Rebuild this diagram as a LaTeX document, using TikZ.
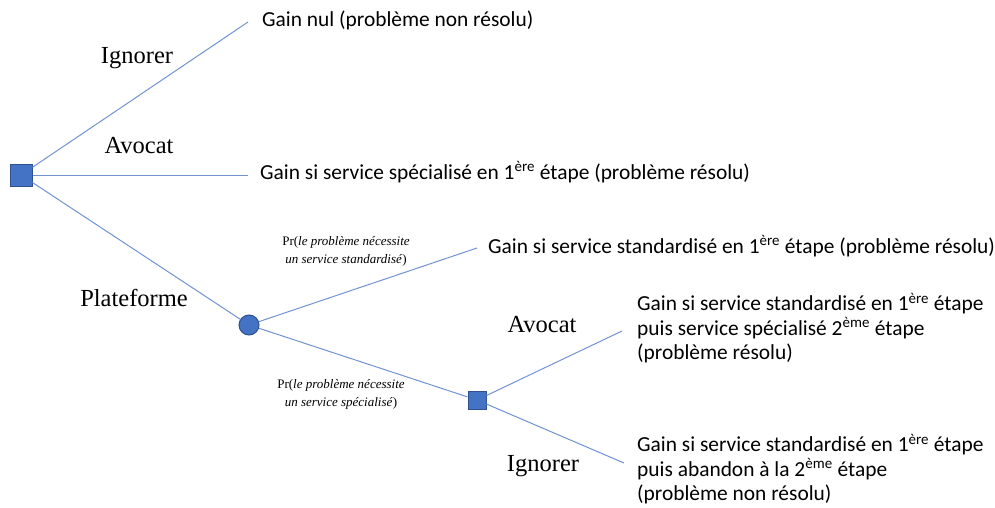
\documentclass[tikz,border=0pt]{standalone}
\usepackage{fontspec}
\setmainfont{Liberation Serif}
\newfontfamily\calib{Carlito}
\newfontfamily\probfont{Liberation Serif}
\begin{document}
\begin{tikzpicture}[x=1pt,y=-1pt,
  edge/.style={draw=lineblue, line width=1pt},
  decsq/.style={rectangle, draw=nodeborder, fill=nodefill, line width=1pt, minimum size=#1, inner sep=0pt},
  chance/.style={circle, draw=nodeborder, fill=nodefill, line width=1pt, minimum size=20pt, inner sep=0pt},
  outcome/.style={anchor=west, font=\calib\fontsize{21.4}{24.5}\selectfont, inner sep=0pt, align=left},
  act/.style={font=\fontsize{24.5}{28}\selectfont, inner sep=0pt},
  prob/.style={font=\probfont\fontsize{13}{18}\selectfont, inner sep=0pt, align=center}]
\definecolor{lineblue}{RGB}{114,147,210}
\definecolor{nodefill}{RGB}{68,114,196}
\definecolor{nodeborder}{RGB}{47,82,143}
\useasboundingbox (0,0) rectangle (995,508);
\node[decsq=22pt] (d1) at (21,175) {};
\node[chance] (c1) at (249,325) {};
\node[decsq=18pt] (d2) at (477,400) {};
\coordinate (e1) at (248,22);
\coordinate (e2) at (248,175);
\coordinate (e3) at (477,248);
\coordinate (e4) at (622,331);
\coordinate (e5) at (624,463);
\draw[edge] (d1) -- (e1);
\draw[edge] (d1) -- (e2);
\draw[edge] (d1) -- (c1);
\draw[edge] (c1) -- (e3);
\draw[edge] (c1) -- (d2);
\draw[edge] (d2) -- (e4);
\draw[edge] (d2) -- (e5);
\node[outcome] (o1) at (262,20) {Gain nul (problème non résolu)};
\node[outcome] (o2) at (260,172) {Gain si service spécialisé en 1\textsuperscript{ère} étape (problème résolu)};
\node[outcome] (o3) at (488,246) {Gain si service standardisé en 1\textsuperscript{ère} étape (problème résolu)};
\node[outcome] (o4) at (637,328) {Gain si service standardisé en 1\textsuperscript{ère} étape\\puis service spécialisé 2\textsuperscript{ème} étape\\(problème résolu)};
\node[outcome] (o5) at (637,469) {Gain si service standardisé en 1\textsuperscript{ère} étape\\puis abandon à la 2\textsuperscript{ème} étape\\(problème non résolu)};
\node[act] (a1) at (137,58) {Ignorer};
\node[act] (a2) at (139,146) {Avocat};
\node[act] (a3) at (134,298) {Plateforme};
\node[act] (a4) at (542,325) {Avocat};
\node[act] (a5) at (543,466) {Ignorer};
\node[prob] (p1) at (346,251) {Pr(\textit{le problème nécessite}\\\textit{un service standardisé})};
\node[prob] (p2) at (341,394) {Pr(\textit{le problème nécessite}\\\textit{un service spécialisé})};
\end{tikzpicture}
\end{document}
